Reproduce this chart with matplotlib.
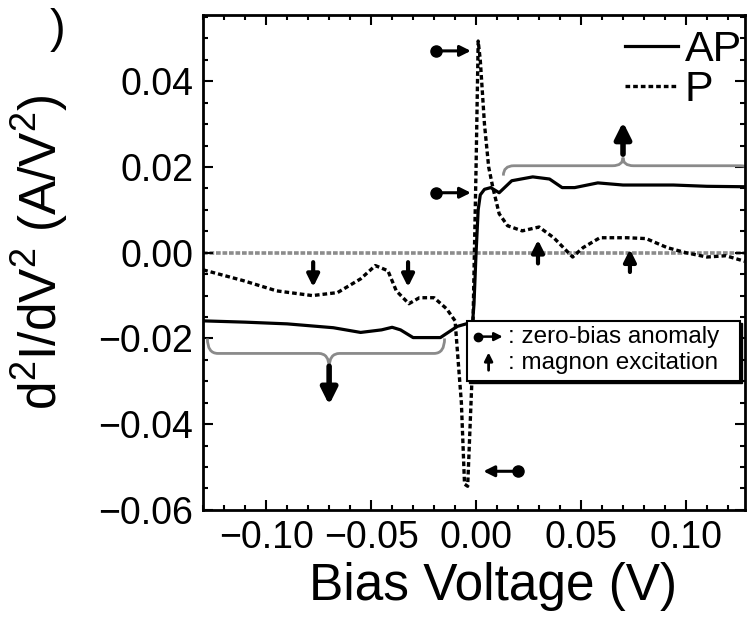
import numpy as np
import matplotlib
matplotlib.use('Agg')
import matplotlib.pyplot as plt
from matplotlib.path import Path
from matplotlib.patches import PathPatch, Rectangle
from matplotlib.ticker import MultipleLocator, FuncFormatter

plt.rcParams['font.family'] = ['Liberation Sans', 'DejaVu Sans']
plt.rcParams['mathtext.fontset'] = 'custom'
plt.rcParams['mathtext.rm'] = 'Liberation Sans'
plt.rcParams['mathtext.it'] = 'Liberation Sans:italic'

# AP curve (solid)
v_ap = [-0.130, -0.110, -0.090, -0.068, -0.055, -0.045, -0.040, -0.036,
        -0.030, -0.017, -0.009, -0.004, -0.002, -0.001, 0.000, 0.001,
        0.002, 0.004, 0.007, 0.011, 0.017, 0.027, 0.035, 0.041, 0.047,
        0.058, 0.070, 0.094, 0.110, 0.128]
d2i_ap = [-0.0159, -0.0162, -0.0166, -0.0175, -0.0186, -0.0180, -0.0174,
          -0.0180, -0.0198, -0.0198, -0.0172, -0.0165, -0.0185, -0.0120,
          0.0000, 0.0100, 0.0135, 0.0148, 0.0152, 0.0140, 0.0168, 0.0177,
          0.0172, 0.0152, 0.0152, 0.0163, 0.0158, 0.0158, 0.0155, 0.0154]

# P curve (dashed)
v_p = [-0.130, -0.111, -0.095, -0.078, -0.066, -0.055, -0.048, -0.042,
       -0.038, -0.032, -0.027, -0.020, -0.014, -0.010, -0.007, -0.0055,
       -0.004, -0.002, 0.000, 0.001, 0.002, 0.004, 0.006, 0.008, 0.011,
       0.015, 0.022, 0.030, 0.037, 0.043, 0.046, 0.051, 0.059, 0.072,
       0.081, 0.091, 0.100, 0.110, 0.119, 0.128]
d2i_p = [-0.0040, -0.0065, -0.0089, -0.0100, -0.0093, -0.0061, -0.0030,
         -0.0042, -0.0089, -0.0119, -0.0105, -0.0105, -0.0131, -0.0159,
         -0.0350, -0.0540, -0.0545, -0.0300, 0.0200, 0.0494, 0.0450,
         0.0300, 0.0200, 0.0152, 0.0091, 0.0063, 0.0051, 0.0060, 0.0035,
         0.0005, -0.0010, 0.0012, 0.0035, 0.0035, 0.0033, 0.0012, 0.0000,
         -0.0010, -0.0007, -0.0020]

# annotation positions (data units)
zba_marks = [((-0.019, 0.0471), (-0.0025, 0.0471)),
             ((-0.019, 0.0140), (-0.0025, 0.0140)),
             ((0.020, -0.0510), (0.0035, -0.0510))]
magnon_small = [((-0.0776, -0.0022), (-0.0776, -0.0080)),
                ((-0.0324, -0.0022), (-0.0324, -0.0080)),
                ((0.0295, -0.0025), (0.0295, 0.0030)),
                ((0.0733, -0.0045), (0.0733, 0.0008))]
magnon_big = [((0.070, 0.0230), (0.070, 0.0305)),
              ((-0.070, -0.0265), (-0.070, -0.0355))]

fig = plt.figure(figsize=(7.47, 6.21), dpi=100)
ax = fig.add_axes([0.272, 0.179, 0.725, 0.797])

ax.axhline(0, color='#8c8c8c', lw=2.6, ls=(0, (1.3, 0.5)), zorder=1)
ax.plot(v_ap, d2i_ap, color='black', lw=2.3, label='AP', zorder=3)
ax.plot(v_p, d2i_p, color='black', lw=2.4, ls=(0, (1.4, 0.9)), label='P',
        zorder=3)


def brace(x0, x1, xm, y_end, y_base, y_tip, r=0.005):
    verts = [(x0, y_end), (x0, y_base), (x0 + r, y_base),
             (xm - r, y_base), (xm, y_base), (xm, y_tip),
             (xm, y_base), (xm + r, y_base),
             (x1 - r, y_base), (x1, y_base), (x1, y_end)]
    codes = [Path.MOVETO, Path.CURVE3, Path.CURVE3,
             Path.LINETO, Path.CURVE3, Path.CURVE3,
             Path.CURVE3, Path.CURVE3,
             Path.LINETO, Path.CURVE3, Path.CURVE3]
    ax.add_patch(PathPatch(Path(verts, codes), fc='none', ec='#8a8a8a',
                           lw=2.0, zorder=2))


brace(0.013, 0.131, 0.070, 0.0180, 0.0203, 0.0222)
brace(-0.128, -0.015, -0.070, -0.0200, -0.0235, -0.0268)

for tail, head in zba_marks:
    ax.annotate('', xy=head, xytext=tail,
                arrowprops=dict(arrowstyle='-|>', color='black', lw=2.2,
                                mutation_scale=16, shrinkA=0, shrinkB=0))
    ax.plot(*tail, 'o', color='black', ms=8, zorder=4)

for tail, head in magnon_small:
    ax.annotate('', xy=head, xytext=tail,
                arrowprops=dict(arrowstyle='-|>', color='black', lw=3.0,
                                mutation_scale=18, shrinkA=0, shrinkB=0))
for tail, head in magnon_big:
    ax.annotate('', xy=head, xytext=tail,
                arrowprops=dict(arrowstyle='-|>', color='black', lw=4.0,
                                mutation_scale=24, shrinkA=0, shrinkB=0))

# key box
ax.add_patch(Rectangle((0.491, 0.257), 0.504, 0.121, transform=ax.transAxes,
                       fc='black', ec='black', zorder=5))
ax.add_patch(Rectangle((0.487, 0.261), 0.504, 0.121, transform=ax.transAxes,
                       fc='white', ec='black', lw=1.5, zorder=6))
ax.annotate('', xy=(0.553, 0.350), xytext=(0.507, 0.350),
            xycoords='axes fraction',
            arrowprops=dict(arrowstyle='-|>', color='black', lw=1.8,
                            mutation_scale=12, shrinkA=0, shrinkB=0),
            zorder=7)
ax.plot(0.507, 0.350, 'o', color='black', ms=6, transform=ax.transAxes,
        zorder=8, clip_on=False)
ax.annotate('', xy=(0.527, 0.318), xytext=(0.527, 0.282),
            xycoords='axes fraction',
            arrowprops=dict(arrowstyle='-|>', color='black', lw=2.0,
                            mutation_scale=12, shrinkA=0, shrinkB=0),
            zorder=7)
ax.text(0.562, 0.350, ': zero-bias anomaly', transform=ax.transAxes,
        fontsize=17.5, va='center', ha='left', zorder=7)
ax.text(0.562, 0.296, ': magnon excitation', transform=ax.transAxes,
        fontsize=17.5, va='center', ha='left', zorder=7)

leg = ax.legend(loc='upper right', bbox_to_anchor=(0.995, 0.97),
                frameon=False, fontsize=31, handlelength=1.25,
                handletextpad=0.15, labelspacing=0.0, borderpad=0,
                borderaxespad=0)

minus_fmt = FuncFormatter(lambda v, pos: ('%.2f' % v).replace('-', '\u2212')
                          if abs(v) > 1e-9 else '0.00')

ax.set_xlim(-0.130, 0.128)
ax.set_ylim(-0.060, 0.0555)
ax.xaxis.set_major_locator(MultipleLocator(0.05))
ax.xaxis.set_minor_locator(MultipleLocator(0.01))
ax.yaxis.set_major_locator(MultipleLocator(0.02))
ax.yaxis.set_minor_locator(MultipleLocator(0.005))
ax.xaxis.set_major_formatter(minus_fmt)
ax.yaxis.set_major_formatter(minus_fmt)
ax.tick_params(which='both', direction='in', top=True, right=True,
               labelsize=27, width=1.5, pad=7)
ax.tick_params(which='major', length=7)
ax.tick_params(which='minor', length=3.5)
for s in ax.spines.values():
    s.set_linewidth(2)

ax.set_xlabel('Bias Voltage (V)', fontsize=37)
ax.xaxis.set_label_coords(0.535, -0.105)
ax.set_ylabel(r'd$^2$I/dV$^2$ (A/V$^2$)', fontsize=37)
ax.yaxis.set_label_coords(-0.245, 0.52)

fig.text(58 / 747, 1 - 30 / 621, ')', fontsize=34, ha='center', va='center')

fig.savefig('out.png', dpi=100)
